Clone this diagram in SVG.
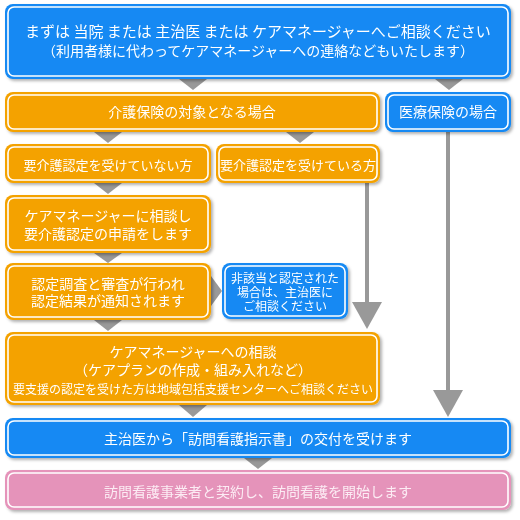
<svg xmlns="http://www.w3.org/2000/svg" width="520" height="520" viewBox="0 0 520 520">
<defs>
<style>
text{font-family:"Noto Sans CJK JP","Noto Sans CJK SC",sans-serif;fill:#fff;text-anchor:middle}
.blue{fill:#1389f3}
.orange{fill:#f4a200}
.pink{fill:#e593ba}
.in{fill:none;stroke:#fff;stroke-width:1.6}
.tri{fill:#999}
.line{stroke:#999;stroke-width:4;fill:none}
.f15{font-size:15px}.f14{font-size:14px}.f13{font-size:13px}.f12{font-size:12px}
.pt{fill:#fcecf4}
</style>
<filter id="sh" x="-5%" y="-10%" width="115%" height="130%">
<feDropShadow dx="2" dy="2" stdDeviation="1.5" flood-color="#000" flood-opacity="0.3"/>
</filter>
</defs>

<g id="connectors">
<polygon class="tri" points="179,79 207,79 193,90"/>
<polygon class="tri" points="435,79 463,79 449,90"/>
<polygon class="tri" points="94,132 122,132 108,143"/>
<polygon class="tri" points="286,132 314,132 300,143"/>
<polygon class="tri" points="94,183 122,183 108,194"/>
<polygon class="tri" points="94,253 122,253 108,263"/>
<polygon class="tri" points="211,276 211,306 222,291"/>
<polygon class="tri" points="94,320 122,320 108,331"/>
<polygon class="tri" points="179,405 207,405 193,417"/>
<polygon class="tri" points="244,458 272,458 258,469"/>
<line class="line" x1="367" y1="183" x2="367" y2="310"/>
<polygon class="tri" points="352,302 382,302 367,329"/>
<line class="line" x1="448" y1="132" x2="448" y2="395"/>
<polygon class="tri" points="433,390 463,390 448,417"/>
</g>

<g id="n1" filter="url(#sh)">
<rect class="blue" x="5" y="4" width="506" height="75" rx="8"/>
<rect class="in" x="8" y="7" width="500" height="69" rx="6"/>
<text class="f15" x="258" y="37">まずは 当院 または 主治医 または ケアマネージャーへご相談ください</text>
<text class="f14" x="258" y="56">（利用者様に代わってケアマネージャーへの連絡などもいたします）</text>
</g>

<g id="n2" filter="url(#sh)">
<rect class="orange" x="5" y="92" width="375" height="40" rx="8"/>
<rect class="in" x="8" y="95" width="369" height="34" rx="6"/>
<text class="f14" x="192" y="117">介護保険の対象となる場合</text>
</g>

<g id="n3" filter="url(#sh)">
<rect class="blue" x="385" y="92" width="126" height="40" rx="8"/>
<rect class="in" x="388" y="95" width="120" height="34" rx="6"/>
<text class="f14" x="448" y="117">医療保険の場合</text>
</g>

<g id="n4" filter="url(#sh)">
<rect class="orange" x="5" y="144" width="206" height="39" rx="8"/>
<rect class="in" x="8" y="147" width="200" height="33" rx="6"/>
<text class="f13" x="108" y="170">要介護認定を受けていない方</text>
</g>

<g id="n5" filter="url(#sh)">
<rect class="orange" x="216" y="144" width="164" height="39" rx="8"/>
<rect class="in" x="219" y="147" width="158" height="33" rx="6"/>
<text class="f13" x="298" y="170">要介護認定を受けている方</text>
</g>

<g id="n6" filter="url(#sh)">
<rect class="orange" x="5" y="195" width="206" height="58" rx="8"/>
<rect class="in" x="8" y="198" width="200" height="52" rx="6"/>
<text class="f14" x="108" y="221">ケアマネージャーに相談し</text>
<text class="f14" x="108" y="239">要介護認定の申請をします</text>
</g>

<g id="n7" filter="url(#sh)">
<rect class="orange" x="5" y="263" width="206" height="57" rx="8"/>
<rect class="in" x="8" y="266" width="200" height="51" rx="6"/>
<text class="f14" x="108" y="289">認定調査と審査が行われ</text>
<text class="f14" x="108" y="306">認定結果が通知されます</text>
</g>

<g id="n8" filter="url(#sh)">
<rect class="blue" x="222" y="263" width="126" height="56" rx="8"/>
<rect class="in" x="225" y="266" width="120" height="50" rx="6"/>
<text class="f12" x="285" y="283">非該当と認定された</text>
<text class="f12" x="285" y="297">場合は、主治医に</text>
<text class="f12" x="285" y="311">ご相談ください</text>
</g>

<g id="n9" filter="url(#sh)">
<rect class="orange" x="5" y="332" width="375" height="73" rx="8"/>
<rect class="in" x="8" y="335" width="369" height="67" rx="6"/>
<text class="f14" x="193" y="357">ケアマネージャーへの相談</text>
<text class="f14" x="193" y="375">（ケアプランの作成・組み入れなど）</text>
<text class="f12" x="193" y="394">要支援の認定を受けた方は地域包括支援センターへご相談ください</text>
</g>

<g id="n10" filter="url(#sh)">
<rect class="blue" x="5" y="418" width="506" height="40" rx="8"/>
<rect class="in" x="8" y="421" width="500" height="34" rx="6"/>
<text class="f14" x="258" y="444">主治医から「訪問看護指示書」の交付を受けます</text>
</g>

<g id="n11" filter="url(#sh)">
<rect class="pink" x="5" y="470" width="506" height="40" rx="8"/>
<rect class="in" x="8" y="473" width="500" height="34" rx="6"/>
<text class="f14 pt" x="258" y="497">訪問看護事業者と契約し、訪問看護を開始します</text>
</g>
</svg>
